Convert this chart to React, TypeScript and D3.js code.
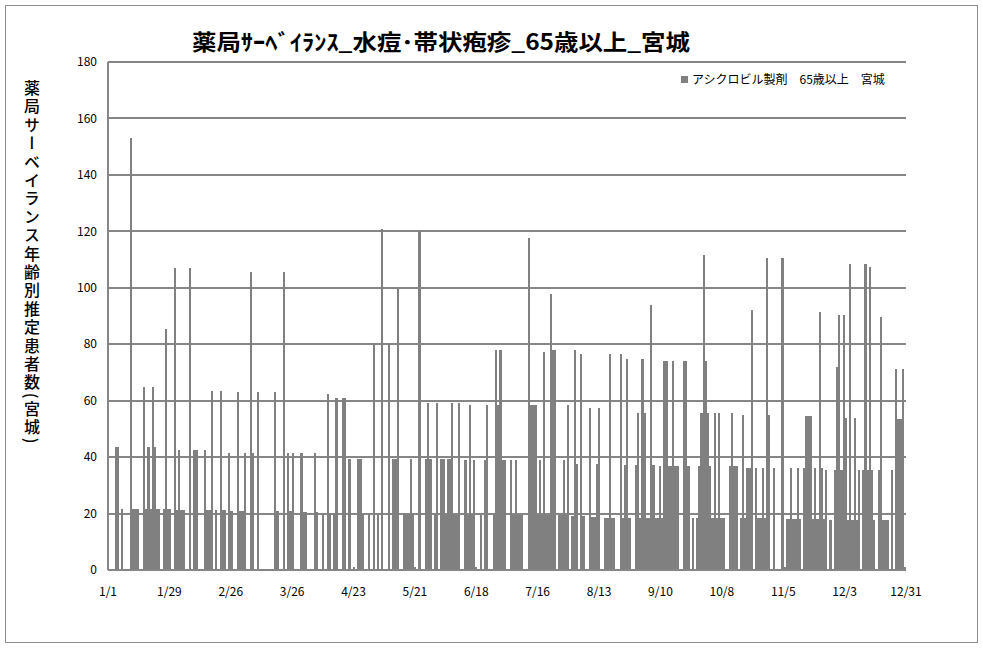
import React from 'react';
import * as d3 from 'd3';

const chartTitle = '薬局ｻｰﾍﾞｲﾗﾝｽ_水痘･帯状疱疹_65歳以上_宮城';
const yTitle = '薬局サーベイランス年齢別推定患者数(宮城)';
const seriesName = 'アシクロビル製剤　65歳以上　宮城';
const xTickLabels = ['1/1', '1/29', '2/26', '3/26', '4/23', '5/21', '6/18', '7/16', '8/13', '9/10', '10/8', '11/5', '12/3', '12/31'];
const yTicks = [0, 20, 40, 60, 80, 100, 120, 140, 160, 180];

// daily estimated patients, 1/1 .. 12/31
const patients = [
  0, 0, 0, 43.5, 43.5, 0, 21.5,
  0, 0, 0, 153, 21.7, 21.7, 21.7,
  0, 0, 65, 21.7, 43.5, 21.7, 65,
  43.5, 21.7, 21.7, 0, 21.5, 85.5, 21.5,
  21.5, 0, 107, 21.3, 42.5, 21.3, 21.3,
  0, 0, 107, 0, 42.5, 42.5, 0,
  0, 0, 42.5, 21.2, 21.2, 63.6, 0,
  21.2, 0, 63.6, 21.2, 21.2, 0, 41.6,
  21, 0, 0, 63, 21, 21, 41.6,
  0, 0, 105.5, 41.6, 0, 63, 0,
  0, 0, 0, 0, 0, 0, 63,
  21, 0, 0, 105.5, 0, 41.6, 21,
  41.6, 0, 0, 0, 41.6, 20.5, 20.5,
  0, 0, 0, 41.3, 20.5, 0, 0,
  20.3, 0, 62.2, 20.3, 0, 20.3, 60.8,
  0, 0, 60.8, 60.8, 0, 39.5, 0,
  1.2, 0, 39.5, 39.5, 19.8, 0, 0,
  19.8, 0, 80.3, 0, 19.8, 0, 121,
  0, 0, 80.3, 0, 39.5, 39.5, 99.5,
  0, 0, 19.8, 19.8, 19.8, 39.5, 19.8,
  1.2, 0, 120, 0, 0, 39.2, 59,
  39.2, 0, 19.6, 59, 0, 39.2, 39.2,
  19.6, 39.2, 39.2, 59, 19.6, 19.6, 59,
  0, 0, 38.8, 19.4, 58.3, 19.4, 38.8,
  1.2, 0, 19.4, 0, 38.8, 58.3, 0,
  0, 19.4, 78, 58.3, 78, 38.8, 38.8,
  0, 0, 38.8, 19.4, 38.8, 19.4, 19.4,
  19.4, 0, 0, 117.6, 58.3, 58.3, 58.3,
  19.4, 38.8, 19.4, 77.2, 19.4, 19.4, 97.8,
  78, 78, 0, 19.4, 19.4, 38.8, 19.4,
  58.3, 0, 19.2, 78, 37.7, 0, 76.4,
  19, 0, 0, 57.3, 18.8, 18.8, 37.7,
  57.3, 0, 0, 18.6, 18.6, 76.4, 18.6,
  18.6, 0, 0, 76.4, 18.6, 37.2, 74.6,
  18.6, 0, 0, 37.2, 55.8, 18.6, 74.6,
  55.8, 18.6, 18.6, 93.8, 37.2, 18.6, 18.6,
  36.7, 18.4, 74, 74, 36.7, 36.7, 74,
  36.7, 36.7, 0, 0, 74, 74, 36.7,
  0, 18.4, 0, 18.4, 36.7, 55.5, 111.6,
  74, 55.5, 36.7, 18.4, 55.5, 18.4, 55.5,
  18.4, 18.4, 0, 0, 36.7, 55.5, 36.7,
  36.7, 0, 18.3, 54.8, 18.3, 36.3, 36.3,
  92, 0, 36.3, 18.3, 18.3, 36.3, 18.3,
  110.5, 54.8, 0, 36.3, 0, 0, 0,
  110.5, 1.2, 18, 18, 36.3, 18, 18,
  36, 18, 0, 36, 54.4, 54.4, 54.4,
  18, 36, 18, 91.4, 36, 18, 35.6,
  0, 17.8, 0, 35.6, 71.8, 90.3, 35.6,
  90.3, 53.7, 17.8, 108.4, 17.8, 53.7, 17.8,
  35.6, 0, 35.6, 108.4, 35.6, 107.3, 35.6,
  17.8, 0, 35.3, 89.6, 17.8, 17.8, 17.8,
  0, 35.3, 0, 71.1, 53.4, 53.4, 71.1,
  1,
];

const W = 983;
const H = 648;
const plot = { left: 108, right: 906, top: 62, bottom: 570 };
const GRID = '#868686';
const BAR = '#808080';
const FONT = '"Noto Sans CJK JP", "Noto Sans", sans-serif';

export default function App() {
  const days = d3.range(patients.length);
  const x = d3.scaleBand<number>().domain(days).range([plot.left, plot.right]).paddingInner(0).paddingOuter(0);
  const xTick = d3.scaleLinear().domain([0, xTickLabels.length - 1]).range([plot.left, plot.right]);
  const y = d3.scaleLinear().domain([0, 180]).range([plot.bottom, plot.top]);

  return (
    <svg width={W} height={H} style={{ position: 'absolute', left: 0, top: 0, background: '#fff' }} fontFamily={FONT}>
      <rect x={0} y={0} width={W} height={H} fill="#fff" />
      <rect x={5.5} y={5.5} width={972} height={637} fill="none" stroke="#8c8c8c" strokeWidth={1} />
      {/* gridlines */}
      {yTicks.map((t) => (
        <line key={'g' + t} x1={plot.left} x2={plot.right} y1={Math.round(y(t))} y2={Math.round(y(t))} stroke={GRID} strokeWidth={2} shapeRendering="crispEdges" />
      ))}
      {/* bars */}
      {days.map((d) =>
        patients[d] > 0 ? (
          <rect key={'b' + d} x={x(d)} y={y(patients[d])} width={x.bandwidth()} height={plot.bottom - y(patients[d])} fill={BAR} shapeRendering="crispEdges" />
        ) : null
      )}
      {/* axes */}
      <line x1={plot.left} x2={plot.left} y1={plot.top} y2={plot.bottom} stroke={GRID} strokeWidth={2} shapeRendering="crispEdges" />
      <line x1={plot.left} x2={plot.right} y1={plot.bottom} y2={plot.bottom} stroke={GRID} strokeWidth={2} shapeRendering="crispEdges" />
      {yTicks.map((t) => (
        <text key={'yl' + t} x={97} y={y(t)} dy="0.35em" textAnchor="end" fontSize={12} fill="#000">{t}</text>
      ))}
      {xTickLabels.map((l, i) => (
        <text key={'xl' + l} x={xTick(i)} y={596} textAnchor="middle" fontSize={12} fill="#000">{l}</text>
      ))}
      {/* title */}
      <text x={441} y={50} textAnchor="middle" fontSize={22} fontWeight="bold" fill="#000" textLength={498} lengthAdjust="spacingAndGlyphs">{chartTitle}</text>
      {/* y title */}
      <text x={32} y={80} fontSize={16} fontWeight={500} fill="#000" style={{ writingMode: 'vertical-rl' as any }} letterSpacing={2.4}>{yTitle}</text>
      {/* legend */}
      <rect x={681} y={76} width={7} height={7} fill={BAR} />
      <text x={692} y={84} fontSize={12} fill="#000">{seriesName}</text>
    </svg>
  );
}
